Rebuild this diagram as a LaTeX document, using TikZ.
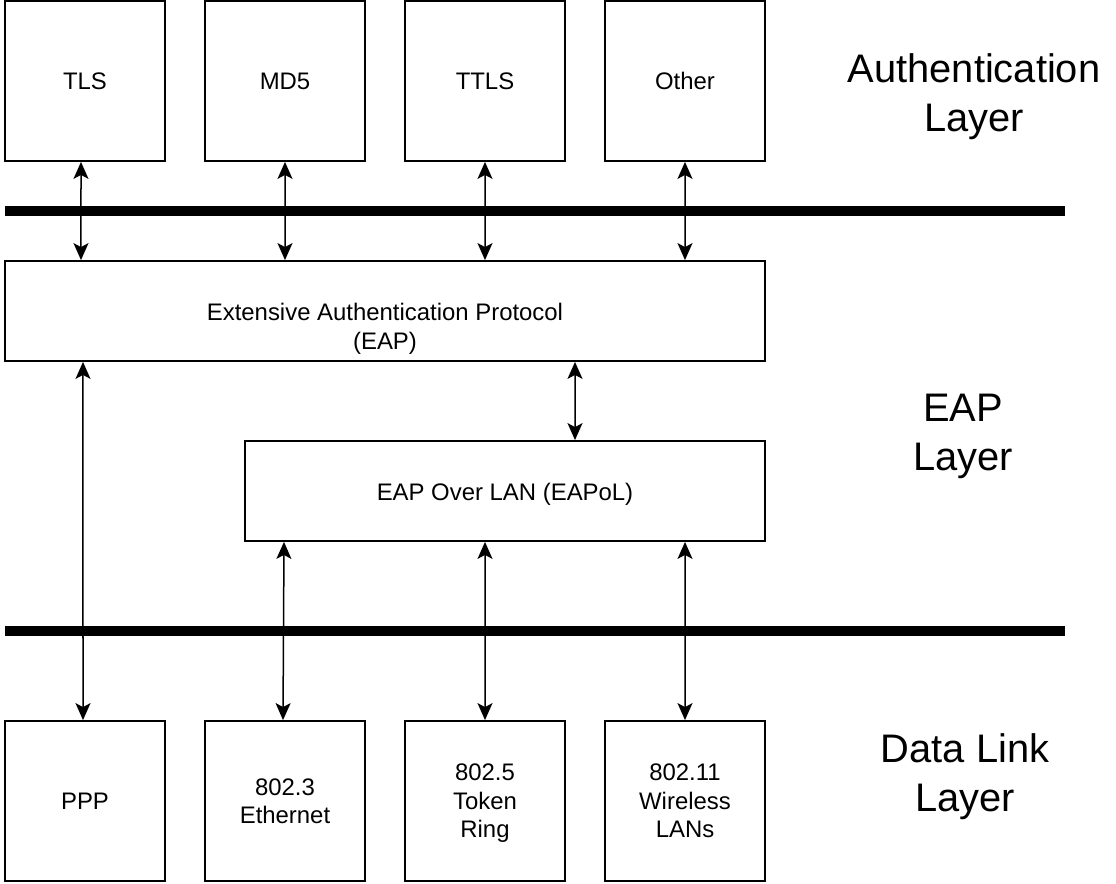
\documentclass[tikz,border=0pt]{standalone}
\usepackage{fontspec}
\setmainfont{Liberation Sans}
\usetikzlibrary{arrows.meta}
\begin{document}
\begin{tikzpicture}[x=1bp,y=-1bp,
  box/.style={draw=black,line width=1.8bp,inner sep=0pt,minimum width=160bp,minimum height=160bp,align=center,text depth=0pt,font=\fontsize{24}{28.5}\selectfont},
  widebox/.style={draw=black,line width=1.8bp,inner sep=0pt,minimum height=100bp},
  boxtext/.style={align=center,inner sep=0pt,text depth=0pt,font=\fontsize{24}{29}\selectfont},
  layertext/.style={align=center,inner sep=0pt,text depth=0pt,font=\fontsize{40}{49}\selectfont},
  biarr/.style={line width=1.5bp,{Stealth[length=17bp,width=15bp,inset=4bp]}-{Stealth[length=17bp,width=15bp,inset=4bp]}},
  bus/.style={line width=10bp,line cap=butt}]
\useasboundingbox (0,0) rectangle (1116,884);
% top boxes
\node[box] (tls)  at (85,81) {TLS};
\node[box] (md5)  at (285,81) {MD5};
\node[box] (ttls) at (485,81) {TTLS};
\node[box] (oth)  at (685,81) {Other};
% EAP boxes
\node[widebox,minimum width=760bp] (eap) at (385,311) {};
\node[boxtext] (eaptext) at (385,326.5) {Extensive Authentication Protocol\\(EAP)};
\node[widebox,minimum width=520bp] (eapol) at (505,491) {};
\node[boxtext] (eapoltext) at (505,492) {EAP Over LAN (EAPoL)};
% bottom boxes
\node[box] (ppp) at (85,801) {PPP};
\node[box] (eth) at (285,801) {802.3\\Ethernet};
\node[box] (tok) at (485,801) {802.5\\Token\\Ring};
\node[box] (wlan) at (685,801) {802.11\\Wireless\\LANs};
% buses
\coordinate (b1l) at (5,211);
\coordinate (b1r) at (1065,211);
\coordinate (b2l) at (5,631);
\coordinate (b2r) at (1065,631);
\draw[bus] (b1l) -- (b1r);
\draw[bus] (b2l) -- (b2r);
% layer labels
\node[layertext] (lauth) at (974,92.5) {Authentication\\Layer};
\node[layertext] (leap) at (963,432.5) {EAP\\Layer};
\node[layertext] (ldl) at (965,772.5) {Data Link\\Layer};
% arrows
\draw[biarr] ([xshift=-4bp]tls.south) -- ([xshift=-304bp]eap.north);
\draw[biarr] (md5.south) -- ([xshift=-100bp]eap.north);
\draw[biarr] (ttls.south) -- ([xshift=100bp]eap.north);
\draw[biarr] (oth.south) -- ([xshift=300bp]eap.north);
\draw[biarr] ([xshift=190bp]eap.south) -- ([xshift=70bp]eapol.north);
\draw[biarr] ([xshift=-302bp]eap.south) -- ([xshift=-2bp]ppp.north);
\draw[biarr] ([xshift=-221bp]eapol.south) -- ([xshift=-2bp]eth.north);
\draw[biarr] ([xshift=-20bp]eapol.south) -- (tok.north);
\draw[biarr] ([xshift=180bp]eapol.south) -- (wlan.north);
\end{tikzpicture}
\end{document}
